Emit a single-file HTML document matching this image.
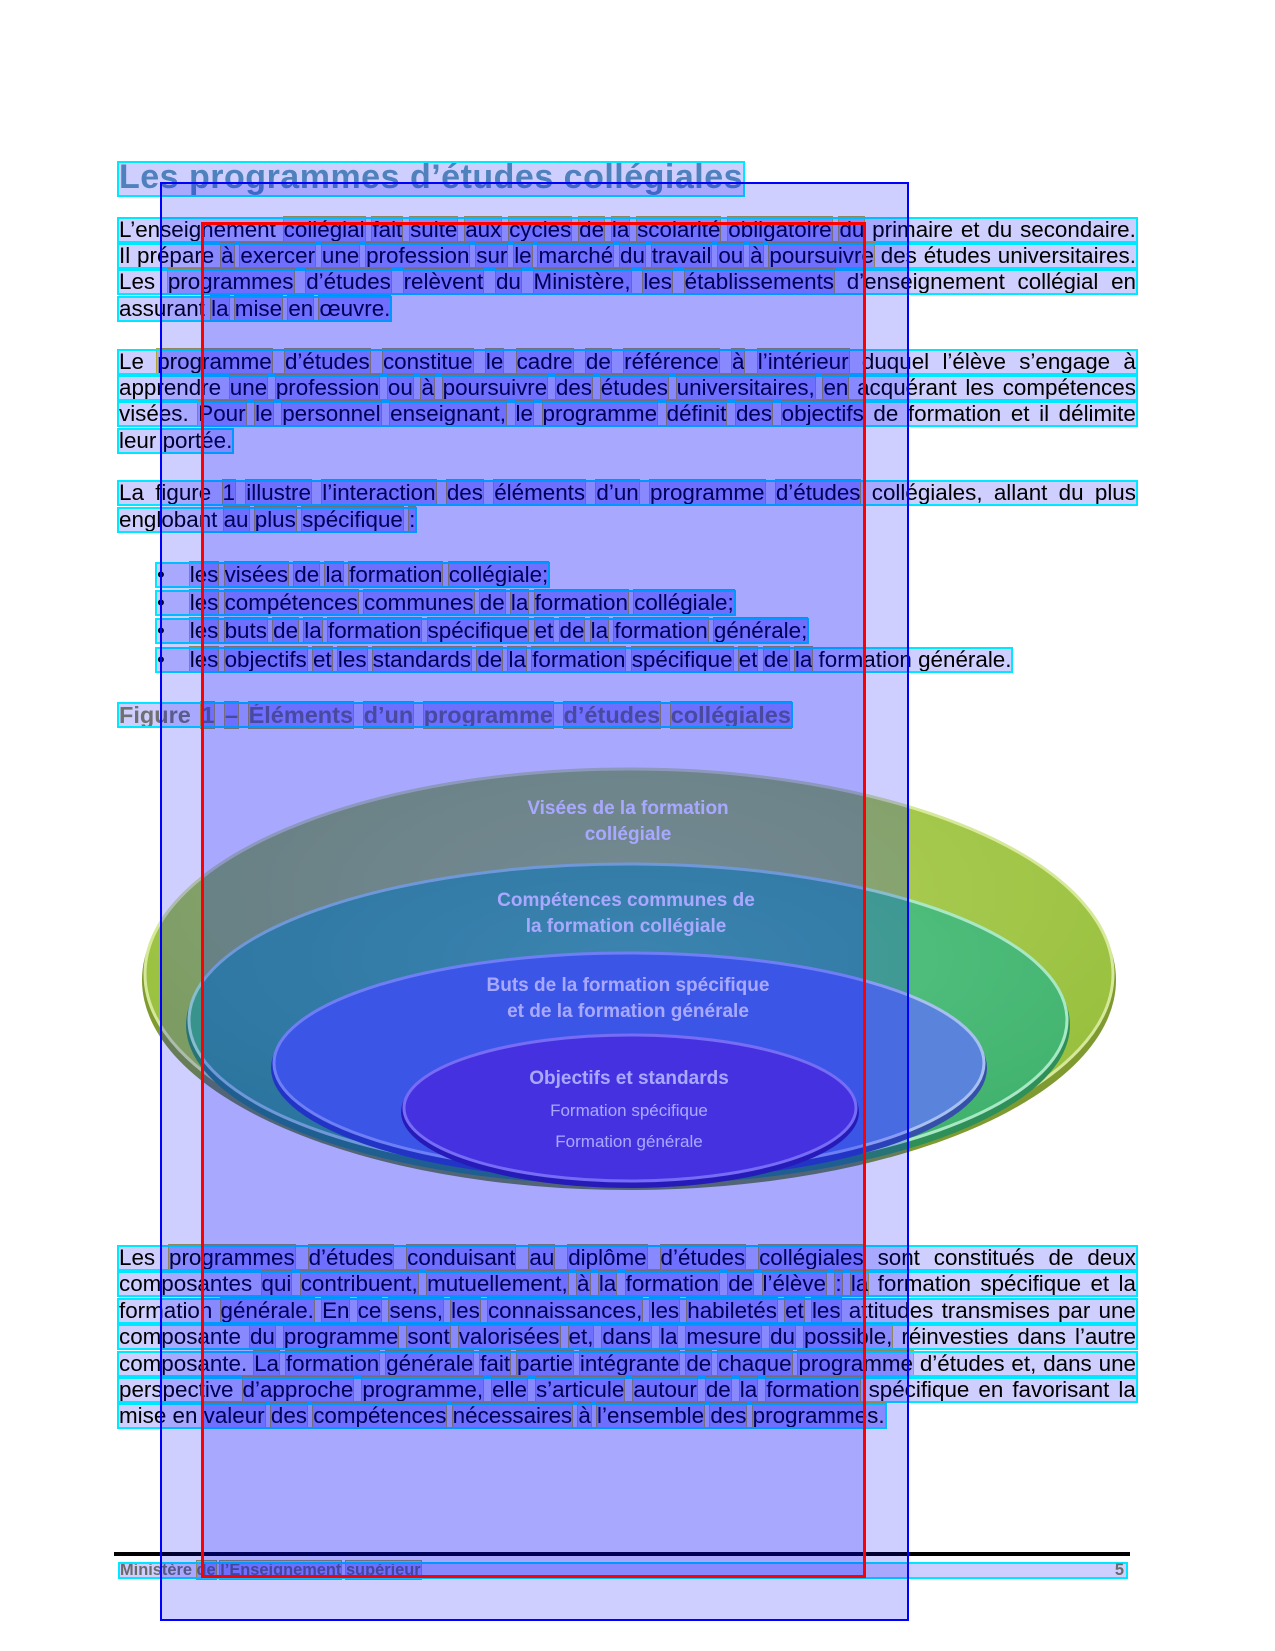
<!DOCTYPE html>
<html><head><meta charset="utf-8">
<style>
html,body{margin:0;padding:0;background:#fff;}
body{width:1275px;height:1651px;position:relative;overflow:hidden;font-family:"Liberation Sans",Arial,sans-serif;color:#000;}
.ln{position:absolute;font-size:22.4px;line-height:22px;height:22px;white-space:nowrap;background:rgba(0,0,255,0.19);outline:2px solid #00e8ff;letter-spacing:0px;}
.j{width:1017px;text-align:justify;text-align-last:justify;}
.w{background:rgba(0,0,255,0.19);outline:1px solid #b3a43a;}
.ov{position:absolute;pointer-events:none;}
</style></head><body>

<svg style="position:absolute;left:0;top:0" width="1275" height="1651">
<defs>
<radialGradient id="gO" cx="50%" cy="30%" r="70%"><stop offset="0" stop-color="#b2d25c"/><stop offset="1" stop-color="#95bd3a"/></radialGradient>
<radialGradient id="gG" cx="50%" cy="30%" r="70%"><stop offset="0" stop-color="#5cc888"/><stop offset="1" stop-color="#3fb06c"/></radialGradient>
</defs>
<ellipse cx="629" cy="980" rx="487" ry="210" fill="#7e9a30"/>
<ellipse cx="629" cy="974" rx="484" ry="205" fill="url(#gO)" stroke="#d6e89a" stroke-width="3"/>
<ellipse cx="628" cy="1025" rx="442" ry="160" fill="#2f8f58"/>
<ellipse cx="628" cy="1020" rx="439" ry="156" fill="url(#gG)" stroke="#a8e8c4" stroke-width="3"/>
<ellipse cx="629" cy="1068" rx="358" ry="113" fill="#3550a8"/>
<ellipse cx="629" cy="1063" rx="355" ry="110" fill="#5a84dc" stroke="#a8c0f0" stroke-width="3"/>
<ellipse cx="630" cy="1112" rx="229" ry="76" fill="#3a2a96"/>
<ellipse cx="630" cy="1108" rx="226" ry="73" fill="#6a4cd0" stroke="#b4a4f0" stroke-width="3"/>
<g font-family="'Liberation Sans Narrow','Liberation Sans',sans-serif" font-weight="bold" fill="#fff" text-anchor="middle" font-size="19">
<text x="628" y="814">Visées de la formation</text>
<text x="628" y="840">collégiale</text>
<text x="626" y="906">Compétences communes de</text>
<text x="626" y="932">la formation collégiale</text>
<text x="628" y="991">Buts de la formation spécifique</text>
<text x="628" y="1017">et de la formation générale</text>
<text x="629" y="1084">Objectifs et standards</text>
<text x="629" y="1116" font-weight="normal" font-size="17">Formation spécifique</text>
<text x="629" y="1147" font-weight="normal" font-size="17">Formation générale</text>
</g>
<rect x="114" y="1552" width="1016" height="4" fill="#000"/>
</svg>

<div class="ln" style="left:119px;top:163px;height:32px;line-height:28px;font-size:34px;font-weight:bold;color:#4f81bd;letter-spacing:0.5px">Les programmes d’études collégiales</div>

<div class="ln j" style="left:119px;top:219px">L’enseignement collégial fait suite aux cycles de la scolarité obligatoire du primaire et du secondaire.</div>
<div class="ln j" style="left:119px;top:245px">Il prépare à exercer une profession sur le marché du travail ou à poursuivre des études universitaires.</div>
<div class="ln j" style="left:119px;top:271px">Les programmes d’études relèvent du Ministère, les établissements d’enseignement collégial en</div>
<div class="ln" style="left:119px;top:298px">assurant la mise en œuvre.</div>

<div class="ln j" style="left:119px;top:351px">Le programme d’études constitue le cadre de référence à l’intérieur duquel l’élève s’engage à</div>
<div class="ln j" style="left:119px;top:377px">apprendre une profession ou à poursuivre des études universitaires, en acquérant les compétences</div>
<div class="ln j" style="left:119px;top:403px">visées. Pour le personnel enseignant, le programme définit des objectifs de formation et il délimite</div>
<div class="ln" style="left:119px;top:430px">leur portée.</div>

<div class="ln j" style="left:119px;top:482px">La figure 1 illustre l’interaction des éléments d’un programme d’études collégiales, allant du plus</div>
<div class="ln" style="left:119px;top:509px">englobant au plus spécifique :</div>

<div class="ln" style="left:157px;top:564px">•&nbsp;&nbsp;&nbsp; les visées de la formation collégiale;</div>
<div class="ln" style="left:157px;top:592px">•&nbsp;&nbsp;&nbsp; les compétences communes de la formation collégiale;</div>
<div class="ln" style="left:157px;top:620px">•&nbsp;&nbsp;&nbsp; les buts de la formation spécifique et de la formation générale;</div>
<div class="ln" style="left:157px;top:649px">•&nbsp;&nbsp;&nbsp; les objectifs et les standards de la formation spécifique et de la formation générale.</div>

<div class="ln" style="left:119px;top:704px;font-weight:bold;font-size:23.5px;color:#707070;word-spacing:4px">Figure 1 – Éléments d’un programme d’études collégiales</div>

<div class="ln j" style="left:119px;top:1247px">Les programmes d’études conduisant au diplôme d’études collégiales sont constitués de deux</div>
<div class="ln j" style="left:119px;top:1273px">composantes qui contribuent, mutuellement, à la formation de l’élève : la formation spécifique et la</div>
<div class="ln j" style="left:119px;top:1300px">formation générale. En ce sens, les connaissances, les habiletés et les attitudes transmises par une</div>
<div class="ln j" style="left:119px;top:1326px">composante du programme sont valorisées et, dans la mesure du possible, réinvesties dans l’autre</div>
<div class="ln j" style="left:119px;top:1353px">composante. La formation générale fait partie intégrante de chaque programme d’études et, dans une</div>
<div class="ln j" style="left:119px;top:1379px">perspective d’approche programme, elle s’articule autour de la formation spécifique en favorisant la</div>
<div class="ln" style="left:119px;top:1405px">mise en valeur des compétences nécessaires à l’ensemble des programmes.</div>

<div class="ln" style="left:120px;top:1564px;width:1006px;height:13px;line-height:13px;font-size:16.4px;font-weight:bold;color:#6a6a6a;letter-spacing:0px">Ministère de l’Enseignement supérieur<span style="position:absolute;right:2px;top:0">5</span></div>

<div class="ov" style="left:160px;top:182px;width:745px;height:1435px;background:rgba(0,0,255,0.19);border:2px solid #0000ff;"></div>
<div class="ov" style="left:201px;top:222px;width:659px;height:1350px;background:rgba(0,0,255,0.19);border:3px solid #ff0000;"></div>

<script>
(function(){
  var lines=document.querySelectorAll('.ln');
  for(var i=1;i<lines.length;i++){
    var el=lines[i];
    var nodes=[].slice.call(el.childNodes);
    nodes.forEach(function(n){
      if(n.nodeType!==3)return;
      var parts=n.textContent.split(/(\s+)/);
      var frag=document.createDocumentFragment();
      parts.forEach(function(p){
        if(p==='')return;
        if(/^\s+$/.test(p)||p==='•'){frag.appendChild(document.createTextNode(p));}
        else{var s=document.createElement('span');s.textContent=p;s.className='wd';frag.appendChild(s);}
      });
      el.replaceChild(frag,n);
    });
  }
  var ws=document.querySelectorAll('.wd');
  for(var k=0;k<ws.length;k++){
    var r=ws[k].getBoundingClientRect();
    var cx=(r.left+r.right)/2, cy=(r.top+r.bottom)/2;
    if(cx>203&&cx<862&&cy>224&&cy<1576){ws[k].classList.add('w');}
  }
})();
</script>
</body></html>
